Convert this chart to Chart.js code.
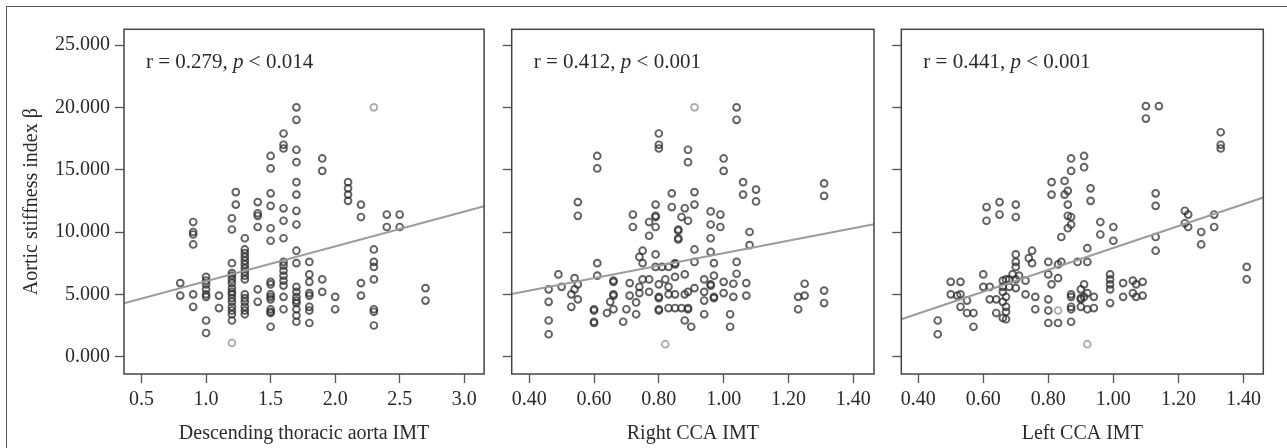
<!DOCTYPE html>
<html>
<head>
<meta charset="utf-8">
<script src="https://cdn.jsdelivr.net/npm/chart.js@4.4.1/dist/chart.umd.min.js"></script>
<style>
  html, body { margin: 0; padding: 0; background: #fff; }
  #wrap { position: relative; width: 1287px; height: 448px; overflow: hidden; background: #fff; }
  #frame { position: absolute; left: 6px; top: 6px; width: 1300px; height: 460px; border: 1.5px solid #555; }
  canvas { position: absolute; top: 0; }
</style>
</head>
<body>
<div id="wrap">
  <div id="frame"></div>
  <canvas id="c1" width="490" height="448" style="left:0"></canvas>
  <canvas id="c2" width="390" height="448" style="left:490px"></canvas>
  <canvas id="c3" width="407" height="448" style="left:880px"></canvas>
</div>
<script>
// Données (indice de rigidité aortique beta vs IMT)
const yTicks = [0, 5, 10, 15, 20, 25];
const aortaTicks = [0.5, 1.0, 1.5, 2.0, 2.5, 3.0];
const ccaTicks = [0.4, 0.6, 0.8, 1.0, 1.2, 1.4];

const axisTitles = ['Descending thoracic aorta IMT', 'Right CCA IMT', 'Left CCA IMT'];
const yTitle = 'Aortic stiffness index \u03B2';
const rValues = ['0.279', '0.412', '0.441'];
const pValues = ['0.014', '0.001', '0.001'];

// Descending thoracic aorta IMT
const aortaPoints = [
  [0.8,5.9],[0.8,4.9],
  [0.9,10.8],[0.9,10.0],[0.9,9.8],[0.9,9.0],[0.9,5.0],[0.9,4.0],
  [1.0,6.4],[1.0,6.1],[1.0,5.8],[1.0,5.4],[1.0,5.0],[1.0,4.8],[1.0,2.9],[1.0,1.9],
  [1.1,4.9],[1.1,3.9],
  [1.2,11.1],[1.2,10.2],[1.2,7.5],[1.2,6.7],[1.2,6.5],[1.2,6.2],[1.2,5.9],[1.2,5.5],[1.2,5.2],[1.2,5.0],
  [1.2,4.7],[1.2,4.4],[1.2,4.0],[1.2,3.7],[1.2,3.4],[1.2,2.9],
  [1.23,13.2],[1.23,12.2],
  [1.3,9.5],[1.3,8.6],[1.3,8.3],[1.3,8.0],[1.3,7.7],[1.3,7.4],[1.3,7.1],[1.3,6.8],[1.3,6.5],[1.3,6.2],
  [1.3,5.0],[1.3,4.7],[1.3,4.4],[1.3,4.0],[1.3,3.7],[1.3,3.4],
  [1.4,12.4],[1.4,11.5],[1.4,11.3],[1.4,10.4],[1.4,5.4],[1.4,4.4],
  [1.5,16.1],[1.5,15.1],[1.5,13.1],[1.5,12.1],[1.5,10.3],[1.5,9.3],[1.5,6.0],[1.5,5.8],[1.5,5.0],[1.5,4.8],
  [1.5,4.6],[1.5,3.8],[1.5,3.6],[1.5,3.5],[1.5,2.4],
  [1.6,17.9],[1.6,17.0],[1.6,16.7],[1.6,11.9],[1.6,10.9],[1.6,9.5],[1.6,7.6],[1.6,7.3],[1.6,6.9],[1.6,6.5],
  [1.6,6.1],[1.6,5.7],[1.6,4.8],[1.6,3.8],
  [1.7,20.0],[1.7,19.0],[1.7,16.6],[1.7,15.6],[1.7,14.0],[1.7,13.0],[1.7,11.7],[1.7,10.6],[1.7,8.5],[1.7,7.5],
  [1.7,5.6],[1.7,5.2],[1.7,4.8],[1.7,4.5],[1.7,4.3],[1.7,3.8],[1.7,3.3],[1.7,2.8],
  [1.8,7.6],[1.8,6.6],[1.8,6.0],[1.8,5.1],[1.8,4.9],[1.8,4.0],[1.8,3.7],[1.8,2.7],
  [1.9,15.9],[1.9,14.9],[1.9,6.2],[1.9,5.2],
  [2.0,4.8],[2.0,3.8],
  [2.1,14.0],[2.1,13.5],[2.1,13.0],[2.1,12.5],
  [2.2,12.2],[2.2,11.2],[2.2,5.9],[2.2,4.9],
  [2.3,8.6],[2.3,7.6],[2.3,7.2],[2.3,6.2],[2.3,3.8],[2.3,3.6],[2.3,2.5],
  [2.4,11.4],[2.4,10.4],[2.5,11.4],[2.5,10.4],
  [2.7,5.5],[2.7,4.5]
];
const aortaFaint = [[1.2,1.1],[2.3,20.0]];
const aortaFit = [[0.364,4.28],[3.154,12.06]];

// Right CCA IMT
const rightPoints = [
  [0.46,5.4],[0.46,4.4],[0.46,2.9],[0.46,1.8],
  [0.49,6.6],[0.50,5.6],
  [0.54,6.3],[0.55,5.8],[0.54,5.4],[0.53,5.0],[0.55,4.6],[0.53,4.0],
  [0.55,12.4],[0.55,11.3],
  [0.61,16.1],[0.61,15.1],[0.61,7.5],[0.61,6.5],
  [0.60,3.8],[0.60,3.7],[0.60,2.8],[0.60,2.7],
  [0.66,6.0],[0.66,6.1],[0.66,5.0],[0.66,4.9],
  [0.65,4.4],[0.64,3.5],[0.66,3.8],
  [0.70,3.8],[0.69,2.8],
  [0.71,5.9],[0.71,4.9],[0.73,3.4],[0.73,4.35],
  [0.72,11.4],[0.72,10.4],
  [0.75,8.5],[0.74,8.0],[0.75,7.5],[0.79,8.2],
  [0.77,10.8],[0.77,9.7],[0.79,10.4],
  [0.79,12.2],[0.79,11.3],[0.79,11.2],
  [0.80,17.9],[0.80,17.0],[0.80,16.7],
  [0.84,13.1],[0.84,12.0],
  [0.79,7.2],[0.81,7.2],[0.83,7.2],[0.85,7.5],[0.85,7.4],
  [0.75,6.2],[0.77,6.2],[0.82,6.2],[0.85,6.4],[0.88,6.6],
  [0.74,5.6],[0.80,5.8],[0.83,5.6],
  [0.74,5.1],[0.77,5.2],[0.80,4.8],[0.80,4.7],[0.83,5.0],[0.85,5.0],[0.88,5.0],[0.89,5.2],[0.91,5.5],
  [0.80,3.8],[0.80,3.7],[0.83,3.9],[0.85,3.9],[0.87,3.9],[0.89,3.9],[0.89,3.8],
  [0.88,2.9],[0.90,2.4],
  [0.89,16.6],[0.89,15.6],
  [0.88,11.9],[0.87,11.2],[0.89,10.9],
  [0.86,10.2],[0.86,10.1],[0.86,9.4],[0.86,9.5],
  [0.91,13.2],[0.91,12.2],[0.91,8.6],[0.91,7.6],
  [0.96,11.65],[0.99,11.4],[0.96,10.6],[0.99,10.4],
  [0.96,9.5],[0.96,8.4],
  [0.97,7.5],[0.97,6.5],[0.94,6.2],[0.96,5.8],[0.96,5.7],[1.00,6.0],[1.03,5.85],[1.07,5.9],
  [0.94,5.2],[0.97,4.7],[0.97,4.8],[0.94,4.5],[1.00,5.1],[1.03,4.8],[1.07,4.9],
  [0.94,3.4],[1.02,3.4],[1.02,2.4],
  [1.00,15.9],[1.00,14.9],
  [1.04,20.0],[1.04,19.0],
  [1.06,14.0],[1.06,13.0],[1.10,13.4],[1.10,12.45],
  [1.08,10.0],[1.08,8.95],
  [1.04,7.6],[1.04,6.65],
  [1.23,4.8],[1.25,4.9],[1.25,5.85],[1.23,3.8],
  [1.31,13.9],[1.31,12.9],[1.31,5.3],[1.31,4.3]
];
const rightFaint = [[0.91,20.0],[0.82,1.0]];
const rightFit = [[0.346,5.02],[1.464,10.62]];

// Left CCA IMT
const leftPoints = [
  [0.46,2.9],[0.46,1.8],
  [0.50,6.0],[0.53,6.0],[0.50,5.0],[0.53,5.0],[0.52,4.9],[0.55,4.5],
  [0.53,4.0],[0.55,3.5],[0.57,3.5],[0.57,2.4],
  [0.60,6.6],[0.60,5.6],[0.62,5.6],
  [0.62,4.6],[0.64,4.6],[0.64,3.5],
  [0.61,12.0],[0.61,10.9],[0.65,12.4],[0.65,11.4],[0.70,12.2],[0.70,11.2],
  [0.66,6.1],[0.67,6.2],[0.68,6.2],[0.70,6.2],[0.66,5.6],[0.68,5.6],[0.70,5.5],
  [0.66,5.2],[0.67,4.8],[0.66,4.4],[0.67,4.0],[0.67,3.6],[0.67,3.0],[0.66,3.1],
  [0.70,8.2],[0.70,7.2],[0.70,7.6],[0.69,6.6],[0.71,6.5],
  [0.73,6.1],[0.73,5.0],
  [0.75,8.5],[0.75,7.5],[0.74,7.9],
  [0.76,4.8],[0.76,3.8],
  [0.80,7.6],[0.80,6.6],[0.81,5.8],[0.83,6.3],[0.84,7.6],[0.83,7.4],
  [0.80,4.6],[0.80,3.7],[0.80,2.7],[0.83,2.7],
  [0.81,14.0],[0.81,13.0],[0.85,14.1],[0.85,13.0],[0.86,13.3],[0.86,12.2],[0.86,11.3],[0.87,11.2],[0.87,10.6],[0.86,10.3],[0.84,9.6],
  [0.87,15.9],[0.87,14.9],[0.91,16.1],[0.91,15.2],
  [0.93,13.5],[0.93,12.5],
  [0.89,7.6],[0.92,8.7],[0.92,7.6],
  [0.87,5.0],[0.87,4.8],[0.87,4.0],[0.87,3.8],[0.87,2.8],
  [0.90,5.4],[0.90,4.7],[0.90,4.6],[0.90,4.0],
  [0.91,5.8],[0.92,5.1],[0.91,4.8],[0.92,3.8],[0.94,4.8],[0.94,3.9],
  [0.96,10.8],[1.00,10.4],[0.96,9.8],[1.00,9.3],
  [0.99,6.6],[0.99,6.2],[0.99,5.8],[0.99,5.4],[0.99,4.3],
  [1.03,5.9],[1.03,4.8],[1.06,6.1],[1.06,5.1],[1.07,5.8],[1.07,4.8],[1.09,6.0],[1.09,4.9],
  [1.10,20.1],[1.14,20.1],[1.10,19.1],
  [1.13,13.1],[1.13,12.1],[1.13,9.6],[1.13,8.5],
  [1.22,11.7],[1.23,11.4],[1.22,10.7],[1.23,10.4],
  [1.27,10.0],[1.27,9.0],
  [1.31,11.4],[1.31,10.4],
  [1.33,18.0],[1.33,17.0],[1.33,16.7],
  [1.41,7.2],[1.41,6.2]
];
const leftFaint = [[0.83,3.7],[0.92,1.0]];
const leftFit = [[0.348,3.0],[1.461,12.77]];

const FONT = '"Liberation Serif", "Times New Roman", serif';
const INK = '#2a2a2a';
const SIZE = 20;

// cadre complet autour de la zone de tracé + texte r / p
const panelPlugin = {
  id: 'panel',
  afterDatasetsDraw(chart, args, opts) {
    const ctx = chart.ctx;
    const a = chart.chartArea;
    ctx.save();
    ctx.strokeStyle = '#444';
    ctx.lineWidth = 1.5;
    ctx.strokeRect(a.left, a.top, a.right - a.left, a.bottom - a.top);

    let x = a.left + 22;
    const y = a.top + 39;
    ctx.fillStyle = INK;
    ctx.textBaseline = 'alphabetic';
    ctx.font = '21px ' + FONT;
    const first = 'r = ' + opts.r + ', ';
    ctx.fillText(first, x, y);
    x += ctx.measureText(first).width;
    ctx.font = 'italic 21px ' + FONT;
    ctx.fillText('p', x, y);
    x += ctx.measureText('p').width;
    ctx.font = '21px ' + FONT;
    ctx.fillText(' < ' + opts.p, x, y);
    ctx.restore();
  }
};

function toXY(list) {
  return list.map(p => ({ x: p[0], y: p[1] }));
}

function makePanel(id, cfg) {
  const ctx = document.getElementById(id);
  return new Chart(ctx, {
    type: 'scatter',
    data: {
      datasets: [
        {
          data: toXY(cfg.points),
          pointRadius: 3.4,
          pointBorderWidth: 1.9,
          pointBorderColor: 'rgba(45,45,45,0.75)',
          pointBackgroundColor: 'rgba(0,0,0,0)',
          order: 2
        },
        {
          data: toXY(cfg.faint),
          pointRadius: 3.4,
          pointBorderWidth: 1.9,
          pointBorderColor: 'rgba(130,130,130,0.65)',
          pointBackgroundColor: 'rgba(0,0,0,0)',
          order: 3
        },
        {
          type: 'line',
          data: toXY(cfg.fit),
          borderColor: '#9c9c9c',
          borderWidth: 2,
          pointRadius: 0,
          fill: false,
          order: 1
        }
      ]
    },
    options: {
      responsive: false,
      animation: false,
      events: [],
      layout: { padding: { top: 29.3, right: cfg.padRight, left: 0, bottom: 0 } },
      plugins: {
        legend: { display: false },
        tooltip: { enabled: false },
        panel: { r: cfg.r, p: cfg.p }
      },
      scales: {
        x: {
          type: 'linear',
          min: cfg.xMin,
          max: cfg.xMax,
          afterFit: s => { s.height = 74; },
          afterBuildTicks: s => { s.ticks = cfg.xTicks.map(v => ({ value: v })); },
          border: { display: false },
          grid: { drawOnChartArea: false, drawTicks: true, tickLength: 9, tickColor: '#555', tickWidth: 1.3 },
          ticks: {
            padding: 5,
            color: INK,
            font: { family: FONT, size: SIZE },
            maxRotation: 0,
            callback: v => v.toFixed(cfg.xDigits)
          },
          title: {
            display: true,
            text: cfg.xTitle,
            color: INK,
            font: { family: FONT, size: SIZE },
            padding: { top: 0, bottom: 2 }
          }
        },
        y: {
          type: 'linear',
          min: -1.39,
          max: 26.26,
          afterFit: s => { s.width = cfg.yWidth; },
          afterBuildTicks: s => { s.ticks = yTicks.map(v => ({ value: v })); },
          border: { display: false },
          grid: { drawOnChartArea: false, drawTicks: true, tickLength: 9, tickColor: '#555', tickWidth: 1.3 },
          ticks: {
            display: cfg.showY,
            padding: 5,
            color: INK,
            font: { family: FONT, size: SIZE },
            callback: v => v.toFixed(3)
          },
          title: {
            display: cfg.showY,
            text: yTitle,
            color: INK,
            font: { family: FONT, size: SIZE },
            padding: { top: 20, bottom: 0 }
          }
        }
      }
    },
    plugins: [panelPlugin]
  });
}

makePanel('c1', {
  points: aortaPoints, faint: aortaFaint, fit: aortaFit,
  xMin: 0.364, xMax: 3.154, xTicks: aortaTicks, xDigits: 1,
  xTitle: axisTitles[0], yWidth: 124, padRight: 4, showY: true,
  r: rValues[0], p: pValues[0]
});
makePanel('c2', {
  points: rightPoints, faint: rightFaint, fit: rightFit,
  xMin: 0.346, xMax: 1.464, xTicks: ccaTicks, xDigits: 2,
  xTitle: axisTitles[1], yWidth: 21.7, padRight: 6, showY: false,
  r: rValues[1], p: pValues[1]
});
makePanel('c3', {
  points: leftPoints, faint: leftFaint, fit: leftFit,
  xMin: 0.348, xMax: 1.461, xTicks: ccaTicks, xDigits: 2,
  xTitle: axisTitles[2], yWidth: 21.3, padRight: 23.7, showY: false,
  r: rValues[2], p: pValues[2]
});
</script>
</body>
</html>
